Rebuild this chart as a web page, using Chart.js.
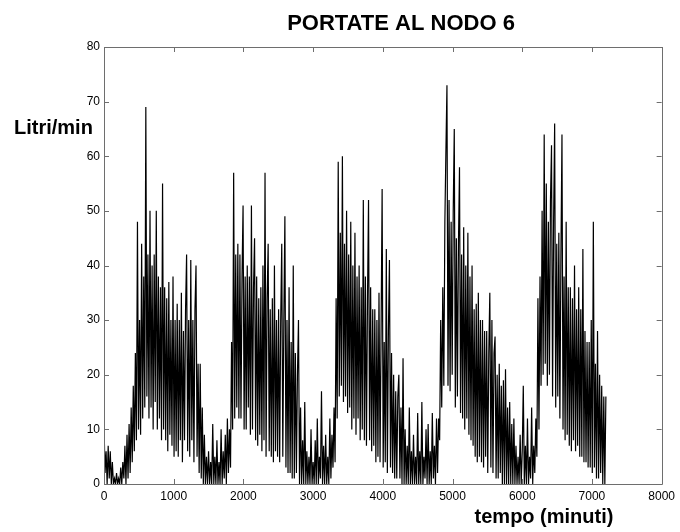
<!DOCTYPE html>
<html>
<head>
<meta charset="utf-8">
<script src="https://cdn.jsdelivr.net/npm/chart.js@4/dist/chart.umd.min.js"></script>
<style>
  html, body { margin: 0; padding: 0; background: #fff; }
  #wrap { width: 680px; height: 532px; }
</style>
</head>
<body>
<div id="wrap"><canvas id="c" width="680" height="532"></canvas></div>
<script>
// Sampling interval of the values below (minutes)
const stepMinutes = 15;

// Flow values (Litri/min), one every 15 minutes
const flowDay1 = [ // 0 - 1485
  11, 2, 6, 0, 7, 1, 6, 0, 4, 0,
  1, 0, 2, 0, 1, 0, 3, 0, 4, 1,
  7, 0, 9, 1, 11, 2, 14, 4, 18, 6,
  24, 8, 48, 10, 30, 9, 44, 12, 38, 14,
  69, 16, 42, 12, 50, 14, 40, 10, 42, 15,
  50, 10, 38, 12, 36, 8, 55, 10, 36, 8,
  34, 6, 37, 9, 30, 7, 38, 5, 30, 6,
  33, 5, 30, 8, 35, 4, 28, 8, 32, 42,
  6, 30, 5, 41, 8, 30, 4, 32, 40, 5,
  22, 2, 22, 1, 14, 0, 9, 0, 5, 0
];
const flowDay2 = [ // 1500 - 2985
  6, 0, 4, 0, 11, 0, 5, 0, 8, 0,
  4, 0, 10, 0, 6, 1, 9, 0, 12, 2,
  10, 3, 26, 10, 57, 12, 42, 14, 44, 12,
  42, 12, 38, 51, 10, 38, 10, 40, 14, 38,
  9, 51, 10, 36, 45, 8, 38, 7, 34, 9,
  36, 6, 40, 8, 57, 5, 34, 44, 6, 32,
  5, 34, 4, 40, 6, 30, 5, 32, 4, 30,
  44, 5, 30, 49, 3, 30, 2, 36, 2, 26,
  1, 40, 1, 24, 2, 20, 30, 0, 14, 0,
  8, 0, 15, 0, 6, 0, 5, 0, 10, 0
];
const flowDay3 = [ // 3000 - 4485
  4, 0, 8, 0, 12, 0, 5, 1, 17, 0,
  7, 0, 9, 0, 5, 0, 12, 1, 9, 3,
  14, 4, 34, 12, 59, 16, 46, 18, 60, 15,
  44, 16, 50, 13, 42, 14, 48, 10, 40, 12,
  46, 9, 38, 12, 40, 8, 36, 10, 52, 8,
  38, 7, 34, 52, 8, 36, 6, 32, 7, 32,
  4, 30, 5, 35, 4, 28, 54, 3, 26, 4,
  43, 2, 28, 41, 3, 24, 2, 20, 1, 17,
  1, 16, 20, 1, 14, 0, 23, 0, 10, 0,
  7, 0, 14, 0, 6, 0, 9, 0, 5, 0
];
const flowDay4 = [ // 4500 - 5985
  13, 0, 6, 0, 15, 0, 5, 1, 10, 0,
  11, 0, 6, 0, 13, 1, 7, 0, 12, 2,
  12, 8, 30, 14, 36, 18, 48, 61, 73, 18,
  52, 17, 48, 20, 50, 65, 14, 45, 16, 44,
  58, 13, 42, 12, 47, 10, 40, 12, 46, 9,
  38, 8, 40, 7, 32, 5, 33, 4, 35, 5,
  30, 4, 30, 3, 28, 5, 28, 2, 24, 35,
  3, 30, 2, 24, 27, 1, 20, 1, 22, 2,
  18, 0, 19, 0, 21, 0, 14, 0, 15, 0,
  11, 0, 12, 0, 7, 0, 5, 0, 9, 0
];
const flowDay5 = [ // 6000 - 7200
  6, 18, 0, 7, 0, 12, 0, 5, 1, 14,
  0, 7, 2, 12, 5, 34, 10, 38, 18, 50,
  20, 64, 22, 55, 18, 48, 20, 52, 62, 16,
  48, 66, 14, 44, 16, 46, 12, 42, 64, 10,
  38, 8, 48, 9, 36, 7, 36, 6, 34, 8,
  40, 6, 32, 7, 36, 5, 32, 5, 43, 4,
  28, 4, 26, 3, 26, 3, 30, 2, 48, 3,
  22, 1, 28, 1, 20, 2, 18, 0, 16, 0,
  16
];

const xTicks = [0, 1000, 2000, 3000, 4000, 5000, 6000, 7000, 8000];
const yTicks = [0, 10, 20, 30, 40, 50, 60, 70, 80];

const titleText = 'PORTATE AL NODO 6';
const yLabelText = 'Litri/min';
const xLabelText = 'tempo (minuti)';

const flow = [].concat(flowDay1, flowDay2, flowDay3, flowDay4, flowDay5);
const points = flow.map((v, i) => ({ x: i * stepMinutes, y: v }));

const FONT = "'Liberation Sans', Arial, Helvetica, sans-serif";

const framePlugin = {
  id: 'frame',
  afterDraw(chart) {
    const ctx = chart.ctx;
    const a = chart.chartArea;
    const xs = chart.scales.x, ys = chart.scales.y;
    ctx.save();
    ctx.strokeStyle = '#6e6e6e';
    ctx.lineWidth = 1;
    ctx.beginPath();
    ctx.rect(Math.round(a.left) + 0.5, Math.round(a.top) + 0.5,
             Math.round(a.right - a.left), Math.round(a.bottom - a.top));
    ctx.stroke();
    const tl = 5;
    ctx.beginPath();
    xTicks.forEach(v => {
      const px = Math.round(xs.getPixelForValue(v)) + 0.5;
      ctx.moveTo(px, a.bottom); ctx.lineTo(px, a.bottom - tl);
      ctx.moveTo(px, a.top); ctx.lineTo(px, a.top + tl);
    });
    yTicks.forEach(v => {
      const py = Math.round(ys.getPixelForValue(v)) + 0.5;
      ctx.moveTo(a.left, py); ctx.lineTo(a.left + tl, py);
      ctx.moveTo(a.right, py); ctx.lineTo(a.right - tl, py);
    });
    ctx.stroke();

    ctx.fillStyle = '#000';
    ctx.textBaseline = 'alphabetic';
    ctx.font = 'bold 22px ' + FONT;
    ctx.textAlign = 'center';
    ctx.fillText(titleText, 401, 30);
    ctx.font = 'bold 20px ' + FONT;
    ctx.textAlign = 'left';
    ctx.fillText(yLabelText, 14, 134);
    ctx.textAlign = 'center';
    ctx.fillText(xLabelText, 544, 523);
    ctx.restore();
  }
};

new Chart(document.getElementById('c'), {
  type: 'line',
  data: {
    datasets: [{
      data: points,
      borderColor: '#000',
      borderWidth: 1.2,
      pointRadius: 0,
      tension: 0,
      fill: false
    }]
  },
  options: {
    responsive: false,
    animation: false,
    events: [],
    layout: { padding: { left: 0, right: 18, top: 47, bottom: 0 } },
    plugins: { legend: { display: false }, tooltip: { enabled: false }, title: { display: false } },
    scales: {
      x: {
        type: 'linear', min: 0, max: 8000,
        afterBuildTicks: s => { s.ticks = xTicks.map(v => ({ value: v })); },
        afterFit: s => { s.height = 48; },
        grid: { display: false, drawTicks: false },
        border: { display: false },
        ticks: { color: '#000', font: { family: FONT, size: 12 }, padding: 5, maxRotation: 0, autoSkip: false,
                 callback: v => String(v) }
      },
      y: {
        type: 'linear', min: 0, max: 80,
        afterBuildTicks: s => { s.ticks = yTicks.map(v => ({ value: v })); },
        afterFit: s => { s.width = 104; },
        grid: { display: false, drawTicks: false },
        border: { display: false },
        ticks: { color: '#000', font: { family: FONT, size: 12 }, padding: 4, autoSkip: false,
                 callback: v => String(v) }
      }
    }
  },
  plugins: [framePlugin]
});
</script>
</body>
</html>
